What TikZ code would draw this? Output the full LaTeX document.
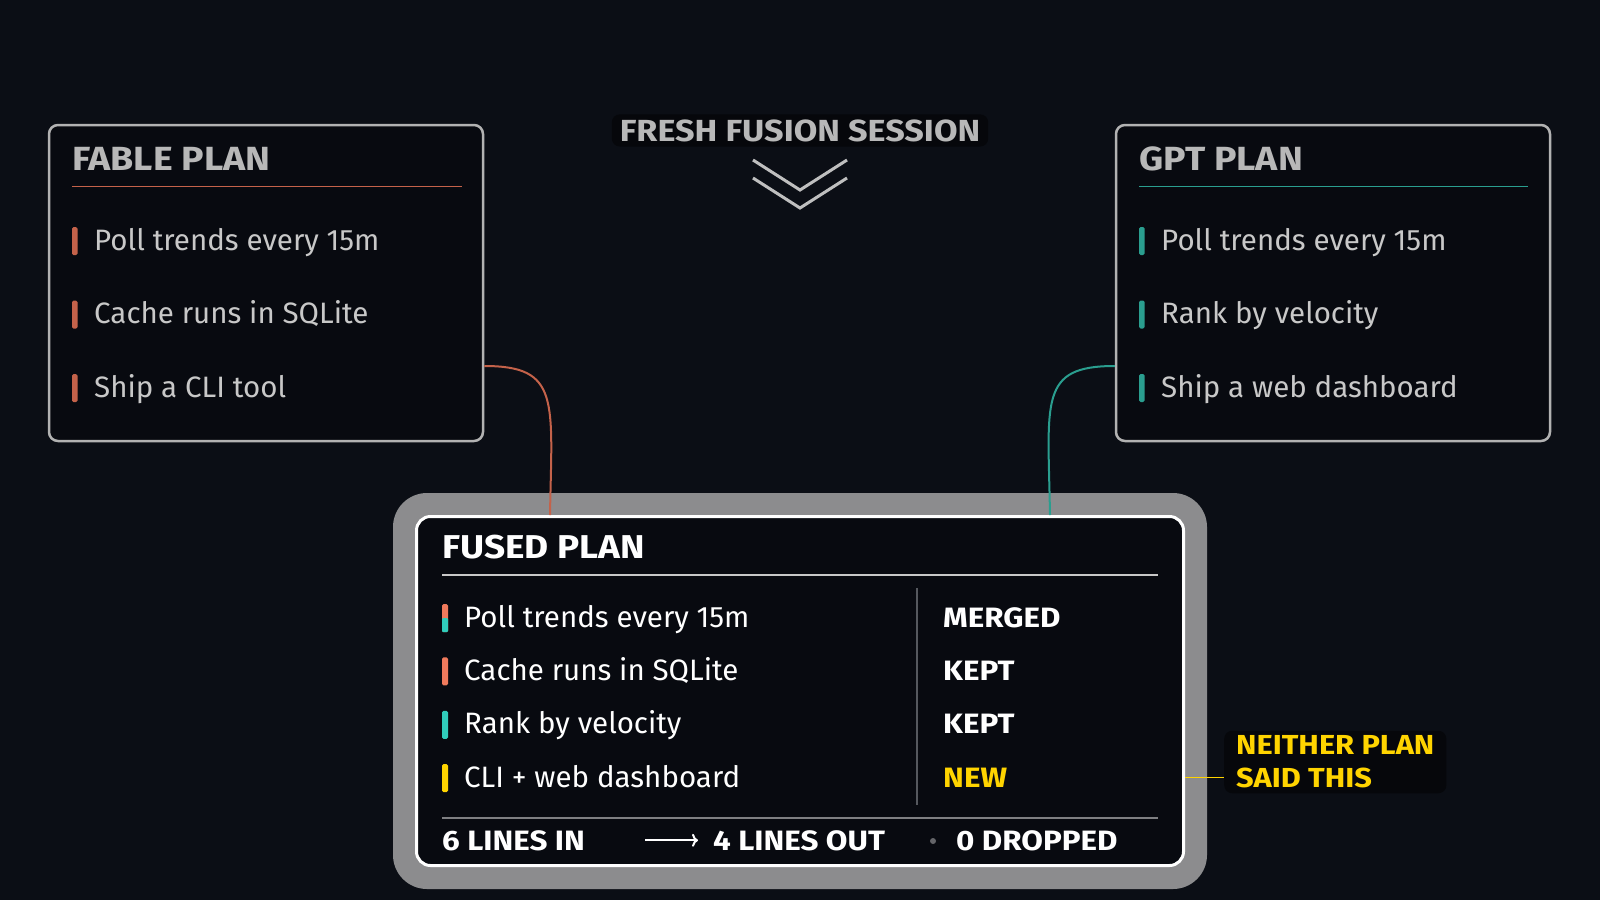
\documentclass[tikz,border=0pt]{standalone}
\usepackage{fontspec}
\setmainfont{Fira Sans}
\newfontfamily\headfont[FakeStretch=1.12]{Fira Sans}
\usetikzlibrary{arrows.meta,positioning}

\definecolor{bgnavy}{HTML}{0B0E15}
\definecolor{boxfill}{HTML}{080A10}
\definecolor{framegray}{HTML}{8C8C8E}
\definecolor{edgegray}{HTML}{B2B2B2}
\definecolor{titlegray}{HTML}{B8B8B8}
\definecolor{softwhite}{HTML}{C8C8C8}
\definecolor{fableorange}{HTML}{C4624A}
\definecolor{gptteal}{HTML}{2A9E8F}
\definecolor{fusedorange}{HTML}{F07A5C}
\definecolor{fusedteal}{HTML}{30CDBB}
\definecolor{newyellow}{HTML}{FFD400}
\definecolor{rulegray}{HTML}{7E7F82}
\definecolor{divgray}{HTML}{55585E}

\begin{document}
\begin{tikzpicture}[x=1pt,y=-1pt,
   planbox/.style={draw=edgegray, line width=2.5pt, rounded corners=9pt, fill=boxfill,
                   minimum width=434pt, minimum height=316pt, inner sep=0pt},
   plantitle/.style={anchor=base west, inner sep=0pt, text=titlegray,
                     font=\headfont\bfseries\fontsize{33.5}{38}\selectfont},
   planitem/.style={anchor=base west, inner sep=0pt, text=softwhite,
                    font=\fontsize{29.5}{34}\selectfont},
   tagtext/.style={anchor=base west, inner sep=0pt, text=white,
                   font=\headfont\bfseries\fontsize{28}{34}\selectfont},
   glow/.style={fill=black, fill opacity=0.45, text opacity=1, rounded corners=8pt},
   chevron/.style={draw=titlegray!90, line width=3pt},
   link/.style={line width=2pt}
]
   % background, fixes the page size
   \fill[bgnavy] (0,0) rectangle (1600,900);

   % session header
   \node[glow, anchor=base, inner xsep=8pt, inner ysep=5pt, text=titlegray,
         font=\headfont\bfseries\fontsize{30.5}{34}\selectfont] (session) at (800,141) {FRESH FUSION SESSION};
   \foreach \dy in {0,18}
      \draw[chevron] (753,160+\dy) -- (800,190+\dy) -- (847,160+\dy);

   % fable plan
   \node[planbox] (fable) at (266,283) {};
   \node[plantitle] (fable-title) at (72,170) {FABLE PLAN};
   \draw[fableorange, line width=1.5pt] (72,186.5) -- (462,186.5);
   \foreach \txt [count=\i] in {Poll trends every 15m, Cache runs in SQLite, Ship a CLI tool} {
      \fill[fableorange, rounded corners=1.5pt] (72,{227+(\i-1)*73.5}) rectangle ++(5.5,28);
      \node[planitem] (fable-\i) at (94,{250+(\i-1)*73.5}) {\txt};
   }

   % gpt plan
   \node[planbox] (gpt) at (1333,283) {};
   \node[plantitle] (gpt-title) at (1139,170) {GPT PLAN};
   \draw[gptteal, line width=1.5pt] (1139,186.5) -- (1528,186.5);
   \foreach \txt [count=\i] in {Poll trends every 15m, Rank by velocity, Ship a web dashboard} {
      \fill[gptteal, rounded corners=1.5pt] (1139,{227+(\i-1)*73.5}) rectangle ++(5.5,28);
      \node[planitem] (gpt-\i) at (1161,{250+(\i-1)*73.5}) {\txt};
   }

   % fused plan
   \node[fill=framegray, rounded corners=34pt, minimum width=814pt, minimum height=396pt,
         inner sep=0pt] (fused-frame) at (800,691) {};
   \node[draw=white, line width=3pt, fill=boxfill, rounded corners=14pt,
         minimum width=767pt, minimum height=349pt, inner sep=0pt] (fused) at (800,691) {};

   \coordinate (fable-out) at ([yshift=-83pt]fable.east);
   \coordinate (gpt-out) at ([yshift=-83pt]gpt.west);
   \draw[link, fableorange] (fable-out) .. controls +(76,0) and +(2,-115) .. ([xshift=-250pt]fused.north);
   \draw[link, gptteal] (gpt-out) .. controls +(-76,0) and +(-2,-115) .. ([xshift=250pt]fused.north);

   \node[tagtext, font=\headfont\bfseries\fontsize{33}{36}\selectfont] (fused-title) at (442,558) {FUSED PLAN};
   \draw[softwhite, line width=1.5pt] (442,575) -- (1158,575);
   \draw[divgray, line width=1.5pt] (917,588) -- (917,805);
   \foreach \txt/\tag/\tagcol/\barcol [count=\i] in
      {Poll trends every 15m/MERGED/white/fusedorange,
       Cache runs in SQLite/KEPT/white/fusedorange,
       Rank by velocity/KEPT/white/fusedteal,
       CLI + web dashboard/NEW/newyellow/newyellow} {
      \fill[\barcol, rounded corners=1.5pt] (442,{604+(\i-1)*53.4}) rectangle ++(6,28);
      \node[planitem, text=white] (row-\i) at (464,{627+(\i-1)*53.4}) {\txt};
      \node[tagtext, text=\tagcol] (tag-\i) at (943,{627+(\i-1)*53.4}) {\tag};
   }
   \fill[fusedteal, rounded corners=1pt] (442,618) rectangle (448,632);

   % footer
   \draw[rulegray, line width=1.5pt] (442,818) -- (1158,818);
   \node[tagtext] (lines-in) at (442,850) {6 LINES IN};
   \node[tagtext] (lines-out) at (713,850) {4 LINES OUT};
   \draw[-{To[length=6pt,width=13pt]}, white, line width=2pt]
      ([xshift=-68pt]lines-out.west) -- ([xshift=-15pt]lines-out.west);
   \node[circle, fill=rulegray!120, minimum size=6pt, inner sep=0pt] (sep-dot) at (933,841) {};
   \node[tagtext] (dropped) at (956,850) {0 DROPPED};

   % note on the new line
   \node[glow, anchor=west, inner xsep=12pt, inner ysep=5pt, align=left, text=newyellow,
         font=\headfont\bfseries\fontsize{27.5}{33}\selectfont] (note) at (1224,762) {NEITHER PLAN\\SAID THIS};
   \draw[newyellow, line width=1.5pt] (fused.east |- tag-4) -- (note.west |- tag-4);
\end{tikzpicture}
\end{document}
